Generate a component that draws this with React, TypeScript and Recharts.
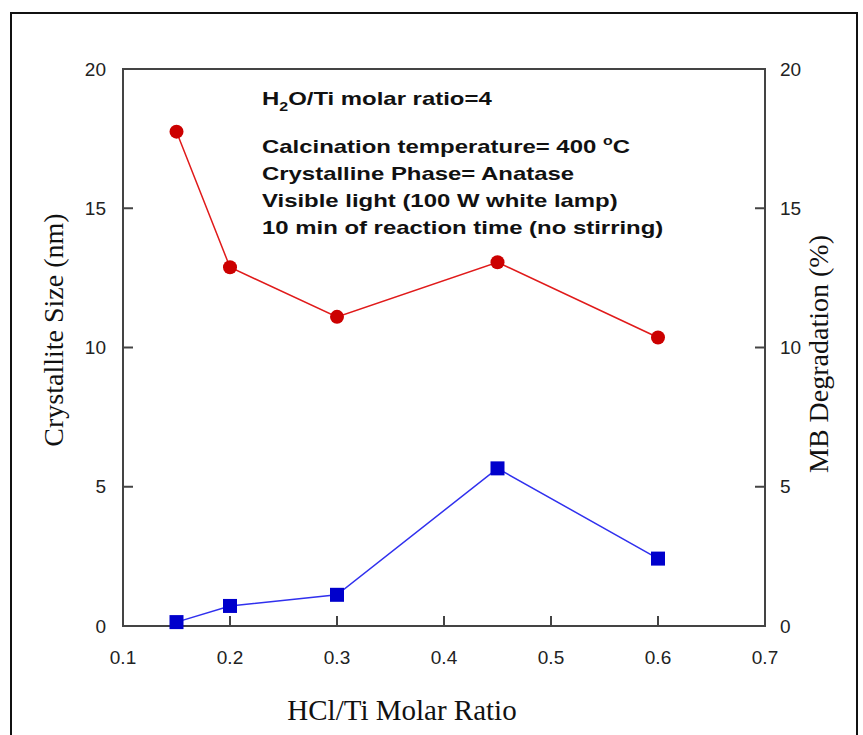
import * as React from 'react';
import {
	ComposedChart,
	Customized,
	Line,
	ReferenceArea,
	XAxis,
	YAxis,
} from 'recharts';

const ratios = [0.15, 0.2, 0.3, 0.45, 0.6];
const crystalliteSize = [17.75, 12.88, 11.1, 13.06, 10.36];
const mbDegradation = [0.14, 0.72, 1.12, 5.66, 2.42];
const xTicks = [0.1, 0.2, 0.3, 0.4, 0.5, 0.6, 0.7];
const yTicks = [0, 5, 10, 15, 20];
const notes = [
	'Calcination temperature= 400 ',
	'Crystalline Phase= Anatase',
	'Visible light (100 W white lamp)',
	'10 min of reaction time (no stirring)',
];

const data = ratios.map((r, i) => ({
	ratio: r,
	size: crystalliteSize[i],
	mb: mbDegradation[i],
}));

const axisColor = '#444';
const tickFont = {fontFamily: '"Liberation Sans", Arial, sans-serif', fontSize: 19, fill: '#222'};
const serif = '"Liberation Serif", "Times New Roman", serif';
const tickStroke = {stroke: axisColor, strokeWidth: 2};

function LeftTick(props: any) {
	const {x, y, payload} = props;
	return <text x={x} y={y} dy="0.35em" textAnchor="end" {...tickFont}>{payload.value}</text>;
}

function RightTick(props: any) {
	const {x, y, payload} = props;
	return <text x={x} y={y} dy="0.35em" textAnchor="start" {...tickFont}>{payload.value}</text>;
}

function BottomTick(props: any) {
	const {x, y, payload} = props;
	return <text x={x} y={y + 38} textAnchor="middle" {...tickFont}>{payload.value}</text>;
}

function SquareDot(props: any) {
	const {cx, cy} = props;
	if (cx == null || cy == null) return null;
	return <rect x={cx - 7} y={cy - 7} width={14} height={14} fill="#0000cc"/>;
}

function Extras() {
	const bold = {fontFamily: '"Liberation Sans", Arial, sans-serif', fontSize: 18, fontWeight: 700, fill: '#111'};
	return (
		<g>
			<rect x={11} y={13} width={846} height={740} fill="none" stroke="#111" strokeWidth={2}/>
			<g transform="translate(262 0) scale(1.33 1) translate(-262 0)">
				<text x={262} y={105} {...bold}>
					H<tspan fontSize={12} dy={6}>2</tspan><tspan dy={-6}>O/Ti molar ratio=4</tspan>
				</text>
				{notes.map((n, i) => (
					<text key={n} x={262} y={153 + i * 27} {...bold}>
						{n}
						{i === 0 && <><tspan fontSize={12} dy={-8}>o</tspan><tspan dy={8}>C</tspan></>}
					</text>
				))}
			</g>
			<text x={53} y={330} textAnchor="middle" dy="0.35em" transform="rotate(-90 53 330)"
				fontFamily={serif} fontSize={28} fill="#111">Crystallite Size (nm)</text>
			<text x={818} y={354} textAnchor="middle" dy="0.35em" transform="rotate(-90 818 354)"
				fontFamily={serif} fontSize={28} fill="#111">MB Degradation (%)</text>
			<text x={402} y={710} textAnchor="middle" dy="0.35em"
				fontFamily={serif} fontSize={29} fill="#111">HCl/Ti Molar Ratio</text>
		</g>
	);
}

export default
function App() {
	return (
		<div style={{position: 'absolute', left: 0, top: 0, background: '#fff'}}>
			<ComposedChart
				width={863}
				height={735}
				data={data}
				margin={{top: 68, right: 0, bottom: 0, left: 0}}
			>
				<XAxis
					xAxisId="bottom"
					dataKey="ratio"
					type="number"
					domain={[0.1, 0.7]}
					ticks={xTicks}
					height={109}
					tickSize={-10}
					tickMargin={10}
					tickLine={tickStroke}
					axisLine={false}
					tick={<BottomTick/>}
				/>
				<XAxis
					xAxisId="top"
					orientation="top"
					dataKey="ratio"
					type="number"
					domain={[0.1, 0.7]}
					ticks={xTicks}
					height={1}
					tickSize={-10}
					tickLine={tickStroke}
					axisLine={false}
					tick={false}
				/>
				<YAxis
					yAxisId="left"
					domain={[0, 20]}
					ticks={yTicks}
					width={123}
					tickSize={-10}
					tickMargin={27}
					tickLine={tickStroke}
					axisLine={false}
					tick={<LeftTick/>}
				/>
				<YAxis
					yAxisId="right"
					orientation="right"
					domain={[0, 20]}
					ticks={yTicks}
					width={98}
					tickSize={-10}
					tickMargin={25}
					tickLine={tickStroke}
					axisLine={false}
					tick={<RightTick/>}
				/>
				<ReferenceArea
					xAxisId="bottom"
					yAxisId="left"
					x1={0.1}
					x2={0.7}
					y1={0}
					y2={20}
					fill="none"
					fillOpacity={0}
					stroke={axisColor}
					strokeWidth={2}
				/>
				<Line
					xAxisId="bottom"
					yAxisId="left"
					dataKey="size"
					type="linear"
					stroke="#e01a1a"
					strokeWidth={1.5}
					dot={{r: 7, fill: '#cc0000', stroke: 'none'}}
					activeDot={false}
					isAnimationActive={false}
				/>
				<Line
					xAxisId="bottom"
					yAxisId="right"
					dataKey="mb"
					type="linear"
					stroke="#3030ee"
					strokeWidth={1.5}
					dot={<SquareDot/>}
					activeDot={false}
					isAnimationActive={false}
				/>
				<Customized component={Extras}/>
			</ComposedChart>
		</div>
	);
}
